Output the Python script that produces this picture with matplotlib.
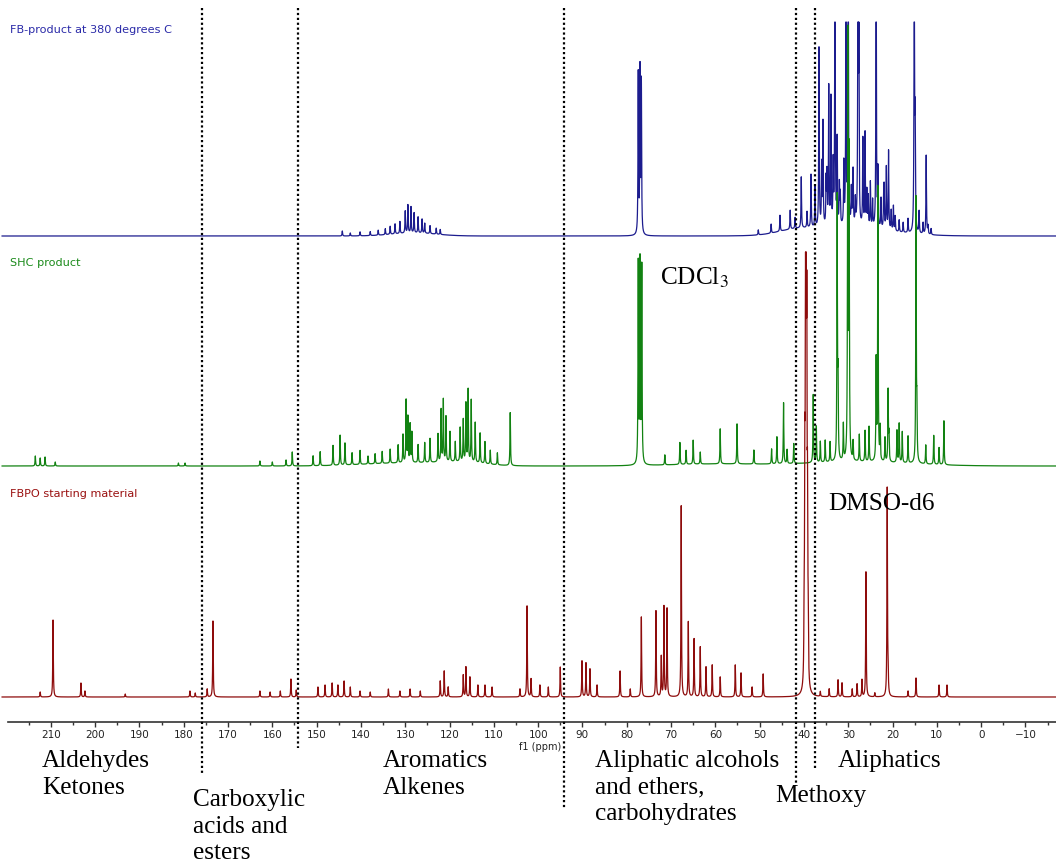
import numpy as np
import matplotlib
matplotlib.use("Agg")
import matplotlib.pyplot as plt
from matplotlib.transforms import blended_transform_factory

# ---------------- data (ppm, height in px-units) ----------------
# FB-product at 380 degrees C (blue)
blue_ppm = [77.4, 77.0, 76.7,
            144.2, 142.4, 140.2, 137.9, 136.1, 134.5, 133.4, 132.3, 131.2, 130.0, 129.4,
            128.7, 128.0, 127.1, 126.2, 125.6, 124.4, 123.0, 122.1,
            50.3, 47.4, 45.4, 43.1, 42.0, 40.6, 39.3, 38.4, 37.5, 36.6, 35.7, 35.0, 34.4,
            33.9, 33.4, 33.0, 32.5, 31.8, 31.0, 30.5, 30.0, 29.3, 28.4, 27.8, 27.6, 26.7,
            26.2, 25.5, 25.0, 24.5, 23.7, 23.3, 22.6, 21.9, 21.4, 20.9, 20.3, 19.4, 18.5,
            17.6, 16.5, 15.1, 14.9, 14.0, 13.1, 12.4, 12.0, 11.3,
            36.0, 34.8, 32.0, 29.0, 28.9, 25.8, 22.0, 19.8]
blue_h = [160, 162, 150,
          5, 3, 4, 4, 5, 6, 8, 10, 12, 22, 28,
          26, 20, 16, 14, 10, 8, 6, 5,
          5, 9, 16, 19, 11, 51, 16, 53, 40, 179, 103, 45, 138,
          127, 60, 300, 85, 30, 61, 300, 300, 35, 25, 300, 177, 87,
          93, 30, 45, 27, 300, 56, 30, 36, 62, 79, 20, 15, 12,
          10, 14, 300, 103, 22, 11, 79, 8, 6,
          60, 50, 40, 30, 45, 35, 28, 25]
blue_broad_ppm = [128.0, 30.0, 42.0]
blue_broad_h = [3, 8, 4]
blue_broad_w = [5.0, 9.0, 4.0]

# SHC product (green)
green_ppm = [213.5, 212.4, 211.3, 209.0, 181.2, 179.7, 162.8, 160.0, 156.9, 155.5,
             150.8, 149.2, 146.3, 144.7, 143.6, 142.0, 140.2, 138.4, 136.8, 135.2,
             133.4, 131.6, 130.5, 129.8, 129.4, 128.9, 128.5, 127.1, 125.6, 124.4,
             122.6, 121.9, 121.4, 120.8, 119.9, 118.7, 117.6, 116.9, 116.3, 115.8,
             115.1, 114.2, 113.1, 112.0, 110.8, 109.2, 106.3,
             77.4, 77.0, 76.6,
             71.4, 68.0, 66.6, 65.0, 63.4, 58.9, 55.1, 51.3, 47.3, 46.1, 44.6, 43.8,
             42.3, 37.9, 37.2, 36.3, 35.2, 34.1, 32.5, 32.3, 31.1, 30.1, 29.8, 28.9,
             27.5, 26.2, 25.3, 23.7, 23.3, 22.8, 21.7, 21.0, 20.8, 19.0, 18.5, 17.8,
             16.5, 14.7, 14.5, 12.5, 10.7, 9.5, 8.4]
green_h = [10, 8, 9, 4, 3, 3, 5, 4, 6, 14,
           10, 14, 20, 30, 22, 12, 14, 8, 10, 12,
           14, 18, 28, 62, 45, 38, 30, 18, 20, 24,
           28, 52, 62, 45, 30, 20, 34, 42, 58, 72,
           62, 40, 30, 22, 14, 12, 53,
           200, 200, 196,
           10, 22, 14, 24, 12, 35, 40, 14, 15, 27, 61, 14,
           20, 68, 36, 21, 22, 20, 261, 73, 36, 441, 300, 19,
           27, 31, 35, 99, 273, 33, 24, 71, 26, 32, 39, 31,
           27, 263, 47, 19, 29, 17, 44]
green_broad_ppm = [130.0, 117.0, 28.0, 60.0]
green_broad_h = [3, 3, 4, 2]
green_broad_w = [9.0, 5.0, 12.0, 10.0]

# FBPO starting material (red)
red_ppm = [212.4, 209.5, 203.2, 202.3, 193.2, 178.6, 177.4, 174.7, 173.4,
           162.8, 160.5, 158.2, 155.8, 154.6, 149.7, 148.1, 146.5, 145.2, 143.8,
           142.4, 140.2, 137.9, 133.8, 131.2, 128.9, 126.6, 122.1, 121.2, 120.3,
           116.9, 116.3, 115.4, 113.6, 112.0, 110.4, 104.1, 102.5, 101.6, 99.6,
           97.7, 95.0, 90.1, 89.2, 88.3, 86.7, 81.5, 79.2,
           76.7, 73.4, 72.2, 71.6, 70.9, 67.7, 66.1, 64.8, 63.4, 62.1, 60.7, 58.9,
           55.5, 54.2, 51.7, 49.2,
           39.95, 39.8, 39.65, 39.5, 39.35, 39.2, 39.05,
           36.3, 34.3, 32.3, 31.4, 29.1, 28.0, 26.9, 26.0, 24.0, 21.2, 21.0, 16.5,
           14.7, 9.5, 7.7]
red_h = [5, 77, 14, 6, 3, 6, 4, 8, 76,
         6, 5, 6, 18, 7, 10, 12, 14, 12, 16,
         10, 6, 5, 8, 6, 8, 6, 16, 26, 10,
         22, 30, 20, 12, 12, 10, 8, 91, 18, 12,
         10, 30, 36, 34, 28, 12, 26, 8,
         80, 86, 40, 90, 88, 191, 75, 58, 50, 30, 32, 20,
         32, 24, 10, 23,
         60, 180, 330, 415, 300, 150, 55,
         5, 8, 17, 14, 8, 13, 17, 125, 4, 208, 18, 6,
         19, 12, 12]

labels = ["FB-product at 380 degrees C", "SHC product", "FBPO starting material"]
region_names = ["Aldehydes\nKetones", "Carboxylic\nacids and\nesters", "Aromatics\nAlkenes",
                "Aliphatic alcohols\nand ethers,\ncarbohydrates", "Methoxy", "Aliphatics"]
divider_ppm = [175.9, 154.1, 94.1, 41.7, 37.5]
major_ticks = list(range(210, -11, -10))

# ---------------- styling ----------------
W, H = 1056, 868
fig = plt.figure(figsize=(W / 100, H / 100), dpi=100)
plt.rcParams['mathtext.fontset'] = 'stix'
ax_left_px, ax_bottom_px = 8.3, 722
ax = fig.add_axes([ax_left_px / W, (H - ax_bottom_px) / H, (W - ax_left_px) / W, ax_bottom_px / H])
ax.set_xlim(219.6, -16.9)
ax.set_ylim(0, ax_bottom_px)

grid = np.arange(221.0, -18.0, -0.01)


def build(ppms, hs, hwhm=0.07, broad=None):
    y = np.zeros_like(grid)
    for p, h in zip(ppms, hs):
        y += h * hwhm ** 2 / ((grid - p) ** 2 + hwhm ** 2)
    if broad is not None:
        for p, h, w in zip(*broad):
            y += h * np.exp(-0.5 * ((grid - p) / w) ** 2)
    return y


colors = ["#1c1c8e", "#128212", "#8e0c0c"]
title_colors = ["#2a2aa8", "#1a8a1a", "#9a1010"]
baselines = [722 - 236, 722 - 466, 722 - 697]
clips = [214, 441, 445]

specs = [build(blue_ppm, blue_h, broad=(blue_broad_ppm, blue_broad_h, blue_broad_w)),
         build(green_ppm, green_h, broad=(green_broad_ppm, green_broad_h, green_broad_w)),
         build(red_ppm, red_h)]

for i, (s, c, b, cl) in enumerate(zip(specs, colors, baselines, clips)):
    ax.plot(grid, b + np.minimum(s, cl), color=c, lw=0.9, zorder=2 + i, clip_on=False)

for sp in ["left", "right", "top"]:
    ax.spines[sp].set_visible(False)
ax.spines["bottom"].set_color("#333333")
ax.spines["bottom"].set_linewidth(1.2)
ax.set_yticks([])
ax.set_xticks(major_ticks)
ax.set_xticks(list(range(215, -16, -5)), minor=True)
ax.tick_params(axis="x", which="major", direction="out", length=3.5, width=1.0,
               color="#333333", labelsize=7.5, labelcolor="#222222", pad=2.5)
ax.tick_params(axis="x", which="minor", direction="out", length=2.5, width=1.0, color="#333333")

# spectrum titles
title_y = [30, 263, 494]
for t, c, yy in zip(labels, title_colors, title_y):
    fig.text(10 / W, 1 - yy / H, t, color=c, fontsize=8.1, ha="left", va="center",
             family="DejaVu Sans")

# dividers
trans = blended_transform_factory(ax.transData, fig.transFigure)
div_bottom = [775, 748, 808, 785, 768]
for p, yb in zip(divider_ppm, div_bottom):
    ax.plot([p, p], [1 - 8 / H, 1 - yb / H], transform=trans, color="black",
            ls=(0, (1, 1.2)), lw=1.6, clip_on=False, zorder=10)

# region labels
region_xy = [(42, 750), (193, 789), (383, 750), (595, 750), (775, 785), (838, 750)]
for name, (x, y) in zip(region_names, region_xy):
    fig.text(x / W, 1 - y / H, name, fontsize=18.2, family="Liberation Serif",
             ha="left", va="top", linespacing=1.27, color="black")

fig.text(660 / W, 1 - 266 / H, "CDCl$_3$", fontsize=18.2, family="Liberation Serif",
         ha="left", va="top")
fig.text(828 / W, 1 - 493 / H, "DMSO-d6", fontsize=18.2, family="Liberation Serif",
         ha="left", va="top", zorder=1)
fig.text(540 / W, 1 - 747 / H, "f1 (ppm)", fontsize=7, ha="center", va="center",
         color="#222222")

fig.savefig("out.png", dpi=100)
